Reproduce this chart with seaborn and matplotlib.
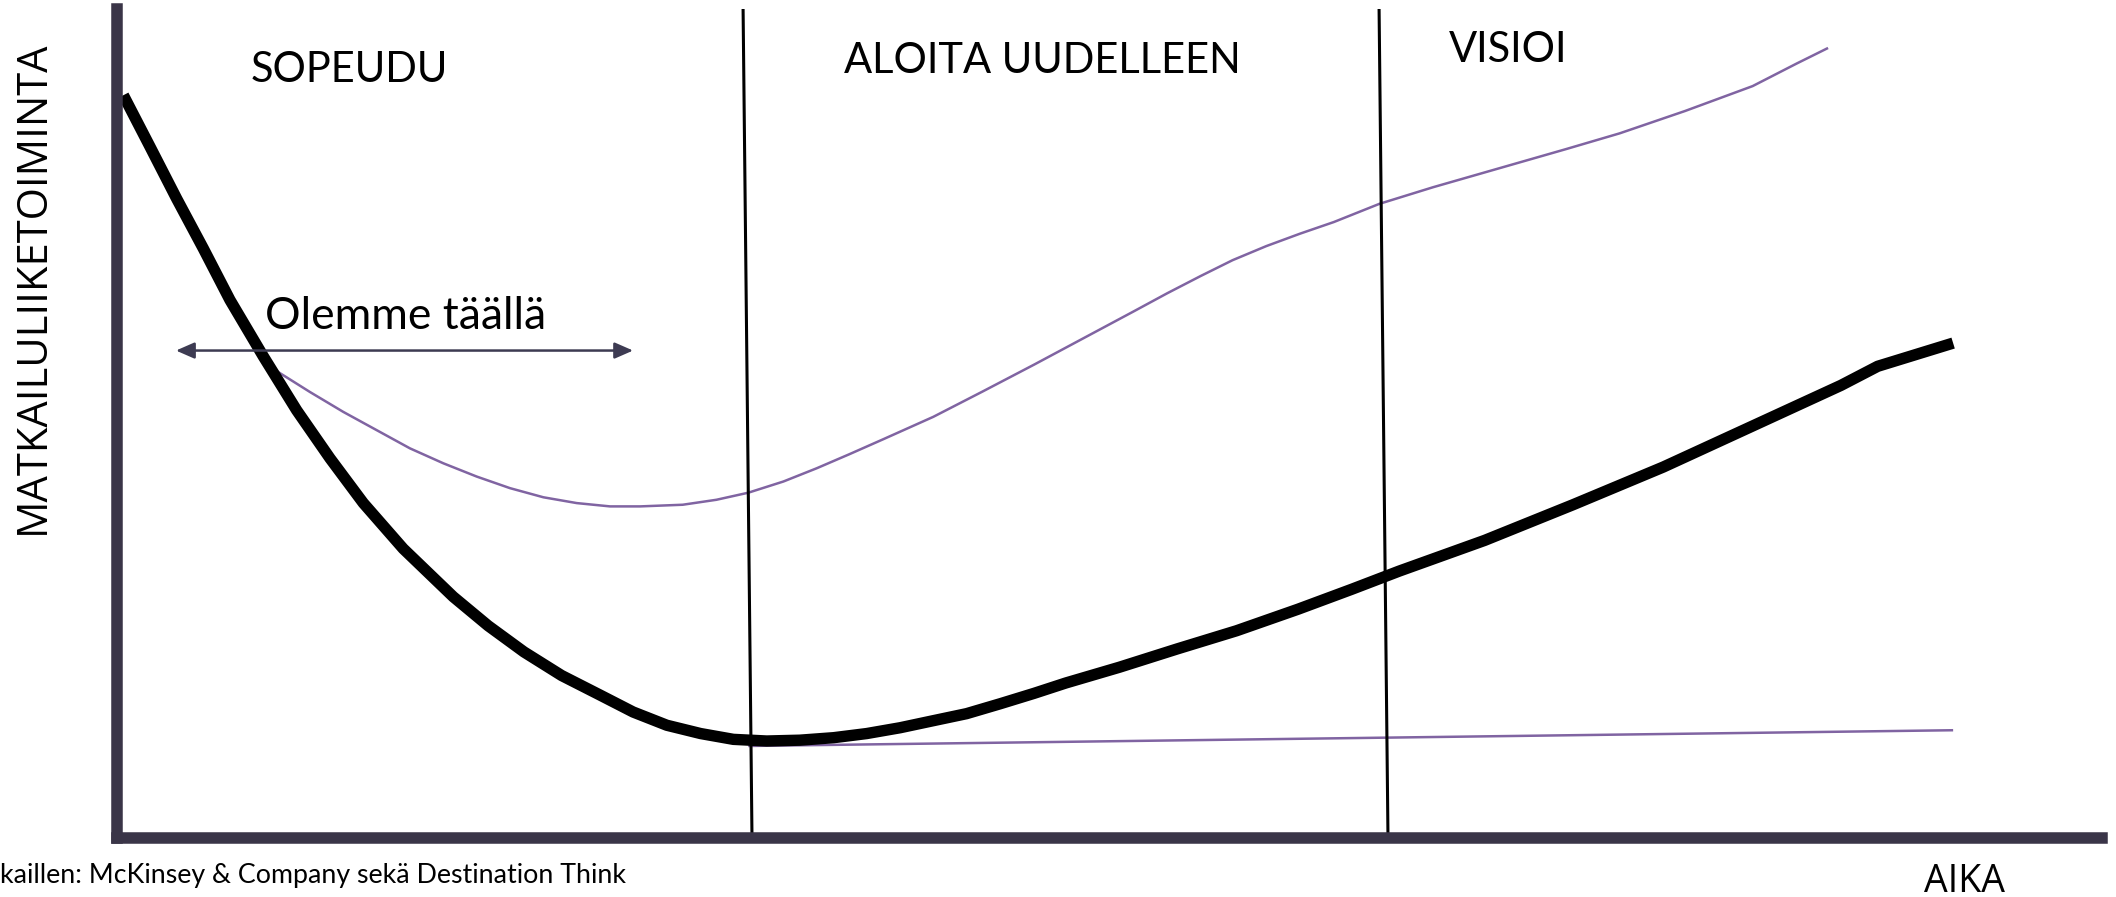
import numpy as np
import pandas as pd
import matplotlib
matplotlib.use('Agg')
import matplotlib.pyplot as plt
import seaborn as sns

# aika (x) ja taso (y), 0-100 asteikolla luettu kuvasta
aika_musta = [0.32, 1.66, 3.01, 4.35, 5.69, 7.37, 9.05, 10.73, 12.41, 14.42, 16.94, 18.7,
              20.5, 22.4, 24.33, 26.0, 27.7, 29.4, 31.05, 32.73, 34.4, 36.1, 37.77, 39.45,
              41.12, 42.8, 44.5, 46.2, 47.8, 50.5, 53.4, 56.4, 59.5, 62.2, 64.6, 68.9,
              73.35, 77.9, 82.4, 86.85, 88.7, 92.5]
taso_musta = [89.6, 83.4, 77.1, 71.1, 64.9, 58.1, 51.6, 45.8, 40.4, 34.9, 29.1, 25.6,
              22.45, 19.6, 17.25, 15.2, 13.6, 12.6, 11.9, 11.7, 11.8, 12.1, 12.6, 13.3,
              14.15, 15.0, 16.2, 17.45, 18.7, 20.6, 22.8, 25.0, 27.6, 30.0, 32.2, 35.9,
              40.2, 44.75, 49.7, 54.6, 56.9, 59.7]

aika_yla = [7.96, 9.72, 11.4, 13.08, 14.76, 16.44, 18.12, 19.8, 21.48, 23.16, 24.84, 26.35,
            28.5, 30.2, 31.8, 33.57, 35.25, 36.9, 38.6, 41.12, 43.6, 46.2, 48.7, 51.2,
            52.9, 54.6, 56.2, 57.9, 59.6, 61.3, 63.6, 66.3, 69.65, 73.0, 75.7, 79.0,
            82.4, 84.6, 86.2]
taso_yla = [56.45, 53.8, 51.4, 49.2, 47.0, 45.2, 43.6, 42.2, 41.1, 40.4, 40.0, 40.0,
            40.2, 40.8, 41.65, 43.0, 44.6, 46.3, 48.1, 50.8, 53.85, 57.1, 60.3, 63.5,
            65.7, 67.8, 69.7, 71.4, 72.9, 74.3, 76.5, 78.5, 80.8, 83.1, 85.0, 87.7,
            90.7, 93.4, 95.3]

aika_ala = [31.8, 92.5]
taso_ala = [11.1, 13.0]

# vaiheiden rajat (ylä- ja alapää)
raja_yla = [31.54, 63.58]
raja_ala = [31.99, 64.03]

vaiheet = ['SOPEUDU', 'ALOITA UUDELLEEN', 'VISIOI']
vaihe_x = [11.7, 46.6, 70.1]
vaihe_y = [91.2, 92.3, 93.6]

nuoli_x = [2.97, 26.0]
nuoli_y = 58.8
nuoli_teksti = 'Olemme täällä'

y_otsikko = 'MATKAILULIIKETOIMINTA'
x_otsikko = 'AIKA'
lahde = 'kaillen: McKinsey & Company sekä Destination Think'

sns.set_theme(style='white')
plt.rcParams['font.family'] = ['Lato', 'DejaVu Sans']

akseli = '#3a3548'
violetti = '#8064A2'

fig = plt.figure(figsize=(21.16, 8.97), dpi=100)
ax = fig.add_axes([117 / 2116, 59 / 897, 1985 / 2116, 829 / 897])

musta = pd.DataFrame({'aika': aika_musta, 'taso': taso_musta})
yla = pd.DataFrame({'aika': aika_yla, 'taso': taso_yla})
ala = pd.DataFrame({'aika': aika_ala, 'taso': taso_ala})

sns.lineplot(data=yla, x='aika', y='taso', ax=ax, color=violetti, lw=1.8,
             estimator=None, sort=False, solid_capstyle='butt', solid_joinstyle='round')
sns.lineplot(data=ala, x='aika', y='taso', ax=ax, color=violetti, lw=1.8,
             estimator=None, sort=False, solid_capstyle='butt')
sns.lineplot(data=musta, x='aika', y='taso', ax=ax, color='black', lw=8.2,
             estimator=None, sort=False, solid_capstyle='butt', solid_joinstyle='round')

for xt, xb in zip(raja_yla, raja_ala):
    ax.plot([xt, xb], [100.2, 0], color='black', lw=2.2, solid_capstyle='butt')

for t, x, y in zip(vaiheet, vaihe_x, vaihe_y):
    ax.text(x, y, t, ha='center', va='baseline', fontsize=30, color='black')

ax.annotate('', xy=(nuoli_x[0], nuoli_y), xytext=(nuoli_x[1], nuoli_y),
            arrowprops=dict(arrowstyle='<|-|>,head_length=0.8,head_width=0.35',
                            mutation_scale=14, color='#3d3b52', lw=1.8,
                            shrinkA=0, shrinkB=0))
ax.text(14.56, 61.4, nuoli_teksti, ha='center', va='baseline', fontsize=32, color='black')

ax.set_xlim(0, 100)
ax.set_ylim(0, 100)
ax.set_xticks([])
ax.set_yticks([])
ax.set_xlabel('')
ax.set_ylabel('')
for s in ['top', 'right']:
    ax.spines[s].set_visible(False)
for s in ['left', 'bottom']:
    ax.spines[s].set_color(akseli)
    ax.spines[s].set_linewidth(8.3)
    ax.spines[s].set_capstyle('projecting')

fig.text(33 / 2116, 1 - 287 / 897, y_otsikko, rotation=90, ha='center', va='center',
         fontsize=30, family=['Open Sans', 'DejaVu Sans'], color='black')
fig.text(1964 / 2116, 5 / 897, x_otsikko, ha='center', va='baseline',
         fontsize=27, family=['Open Sans', 'DejaVu Sans'], color='black')
fig.text(0, 14 / 897, lahde, ha='left', va='baseline', fontsize=19.3, color='black')

fig.savefig('out.png', dpi=100, facecolor='white')
